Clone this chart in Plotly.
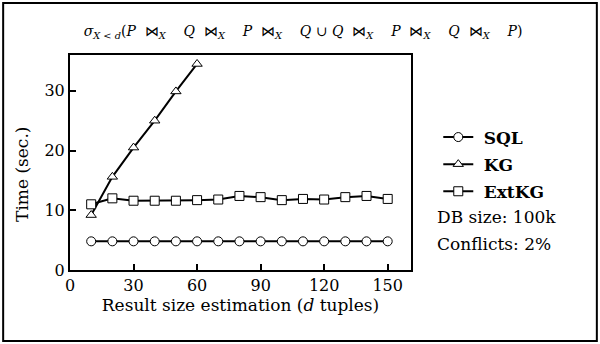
import plotly.graph_objects as go

x_vals = [10, 20, 30, 40, 50, 60, 70, 80, 90, 100, 110, 120, 130, 140, 150]
sql = [4.8] * 15
kg_x = [10, 20, 30, 40, 50, 60]
kg = [9.2, 15.6, 20.5, 25.0, 29.9, 34.5]
extkg = [11.0, 12.0, 11.6, 11.6, 11.6, 11.7, 11.8, 12.4, 12.2, 11.7, 11.9, 11.8, 12.2, 12.4, 11.9]
x_ticks = [0, 30, 60, 90, 120, 150]
y_ticks = [0, 10, 20, 30]

FONT = "DejaVu Serif"
marker_base = dict(color="white", size=9, line=dict(color="black", width=1))
NB = "\u00a0"

fig = go.Figure()
fig.add_trace(go.Scatter(x=x_vals, y=sql, name=NB + "<b>SQL</b>", mode="lines+markers",
                         legendgroup="a", line=dict(color="black", width=2),
                         marker=dict(symbol="circle", **marker_base)))
fig.add_trace(go.Scatter(x=kg_x, y=kg, name=NB + "<b>KG</b>", mode="lines+markers",
                         legendgroup="b", line=dict(color="black", width=2),
                         marker=dict(symbol="triangle-up", **marker_base)))
fig.add_trace(go.Scatter(x=x_vals, y=extkg, name=NB + "<b>ExtKG</b>", mode="lines+markers",
                         legendgroup="c", line=dict(color="black", width=2),
                         marker=dict(symbol="square", **marker_base)))

J = NB * 2 + "⋈<sub><i>X</i></sub>" + NB * 4
title = ("<i>σ</i><sub><i>X</i>" + NB + "&lt;" + NB + "<i>d</i></sub>" + "(<i>P</i>" + J + "<i>Q</i>" + J +
         "<i>P</i>" + J + "<i>Q</i>" + NB + "∪" + NB + "<i>Q</i>" + J + "<i>P</i>" + J +
         "<i>Q</i>" + J + "<i>P</i>)")

fig.update_layout(
    width=600, height=344,
    margin=dict(l=70, r=189, t=55, b=74, autoexpand=False),
    paper_bgcolor="white", plot_bgcolor="white",
    font=dict(family=FONT, size=16, color="black"),
    title=dict(text=title, x=0.505, xref="container", xanchor="center", y=0.91, yanchor="middle",
               font=dict(family=FONT, size=14)),
    showlegend=True,
    legend=dict(x=1.08, y=0.70, xanchor="left", yanchor="top", bgcolor="rgba(0,0,0,0)",
                font=dict(family=FONT, size=17), tracegroupgap=2, itemwidth=30),
    xaxis=dict(range=[0, 161], tickvals=x_ticks, ticks="inside", ticklen=6, tickwidth=2,
               tickcolor="black", showline=True, linecolor="black", linewidth=2, mirror=True,
               showgrid=False, zeroline=False, automargin=False,
               tickfont=dict(family=FONT, size=16),
               title=dict(text="Result size estimation (<i>d</i> tuples)", standoff=0,
                          font=dict(family=FONT, size=17))),
    yaxis=dict(range=[0, 36], tickvals=y_ticks, ticks="inside", ticklen=6, tickwidth=2,
               tickcolor="black", showline=True, linecolor="black", linewidth=2, mirror=True,
               showgrid=False, zeroline=False, automargin=False,
               tickfont=dict(family=FONT, size=16)),
    shapes=[dict(type="rect", xref="paper", yref="paper", x0=-0.196, x1=1.545, y0=-0.330, y1=1.242,
                 line=dict(color="black", width=2), fillcolor="rgba(0,0,0,0)", layer="below")],
    annotations=[
        dict(text="Time (sec.)", xref="paper", yref="paper", x=-0.141, y=(270 - 174) / 215,
             xanchor="center", yanchor="middle", textangle=-90, showarrow=False,
             font=dict(family=FONT, size=17)),
        dict(text="DB size: 100k", xref="paper", yref="paper", x=1.07, y=(270 - 217) / 215,
             xanchor="left", yanchor="middle", showarrow=False, font=dict(family=FONT, size=17)),
        dict(text="Conflicts: 2%", xref="paper", yref="paper", x=1.07, y=(270 - 244) / 215,
             xanchor="left", yanchor="middle", showarrow=False, font=dict(family=FONT, size=17)),
    ],
)

fig.write_html("out.html", config={"displayModeBar": False},
               post_script="document.body.style.margin='0';")
